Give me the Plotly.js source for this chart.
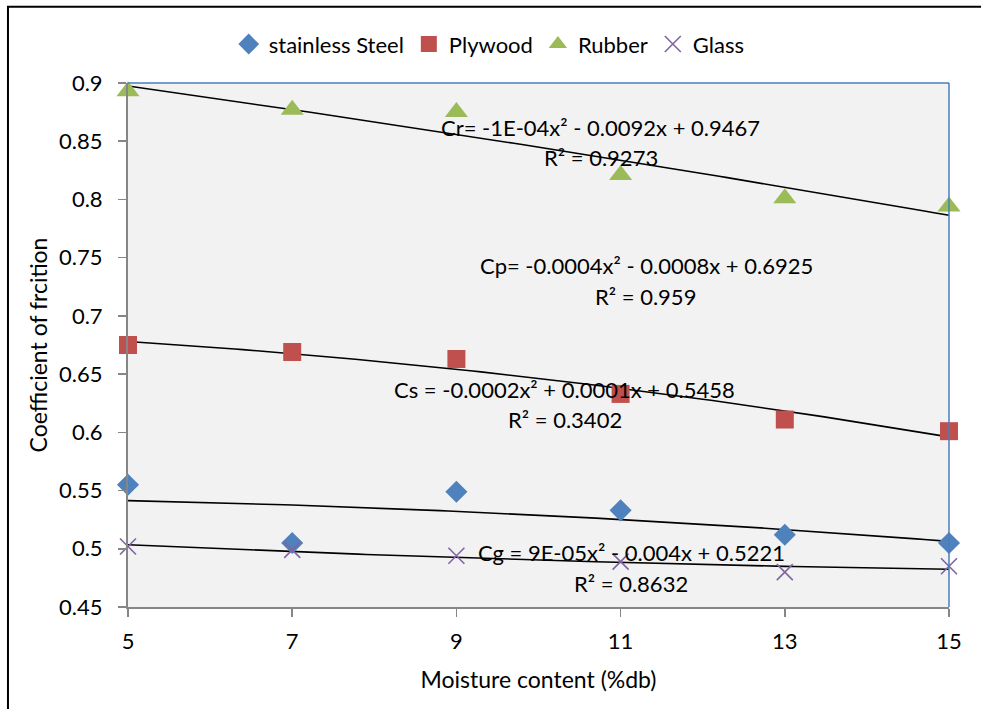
<!DOCTYPE html>
<html>
<head>
<meta charset="utf-8">
<script src="https://cdn.plot.ly/plotly-3.0.1.min.js"></script>
<style>html,body{margin:0;padding:0;background:#fff;}#chart{width:981px;height:709px;}</style>
</head>
<body>
<div id="chart"></div>
<script>
// Data
const moisture = [5, 7, 9, 11, 13, 15];
const steel   = [0.555, 0.505, 0.549, 0.533, 0.512, 0.505];
const plywood = [0.675, 0.669, 0.663, 0.633, 0.611, 0.601];
const rubber  = [0.893, 0.877, 0.875, 0.821, 0.801, 0.794];
const glass   = [0.502, 0.499, 0.494, 0.489, 0.480, 0.485];

const seriesNames = ['stainless Steel', 'Plywood', 'Rubber', 'Glass'];
const xTicks = [5, 7, 9, 11, 13, 15];
const yTicks = [0.45, 0.5, 0.55, 0.6, 0.65, 0.7, 0.75, 0.8, 0.85, 0.9];
const yTickText = ['0.45', '0.5', '0.55', '0.6', '0.65', '0.7', '0.75', '0.8', '0.85', '0.9'];

const eqLabels = [
  {text: 'Cr= -1E-04x\u00b2 - 0.0092x + 0.9467', x: 10.75, y: 0.8614},
  {text: 'R\u00b2 = 0.9273', x: 10.76, y: 0.8356},
  {text: 'Cp= -0.0004x\u00b2 - 0.0008x + 0.6925', x: 11.31, y: 0.7429},
  {text: 'R\u00b2 = 0.959', x: 11.30, y: 0.7165},
  {text: 'Cs = -0.0002x\u00b2 + 0.0001x + 0.5458', x: 10.32, y: 0.6364},
  {text: 'R\u00b2 = 0.3402', x: 10.32, y: 0.6106},
  {text: 'Cg = 9E-05x\u00b2 - 0.004x + 0.5221', x: 11.13, y: 0.4964},
  {text: 'R\u00b2 = 0.8632', x: 11.13, y: 0.4706}
];

// Least-squares quadratic fit (as a spreadsheet trendline does)
function quadFit(xs, ys) {
  let S = [[0,0,0],[0,0,0],[0,0,0]], T = [0,0,0];
  for (let i = 0; i < xs.length; i++) {
    const p = [1, xs[i], xs[i]*xs[i]];
    for (let r = 0; r < 3; r++) {
      T[r] += p[r]*ys[i];
      for (let c = 0; c < 3; c++) S[r][c] += p[r]*p[c];
    }
  }
  const A = S.map((row, i) => row.concat([T[i]]));
  for (let i = 0; i < 3; i++) {
    for (let k = i+1; k < 3; k++) {
      const f = A[k][i]/A[i][i];
      for (let j = i; j < 4; j++) A[k][j] -= f*A[i][j];
    }
  }
  const b = [0,0,0];
  for (let i = 2; i >= 0; i--) {
    let s = A[i][3];
    for (let j = i+1; j < 3; j++) s -= A[i][j]*b[j];
    b[i] = s/A[i][i];
  }
  return b;
}
function trend(ys) {
  const b = quadFit(moisture, ys);
  const xs = [], yv = [];
  for (let i = 0; i <= 100; i++) {
    const x = moisture[0] + (moisture[moisture.length-1]-moisture[0])*i/100;
    xs.push(x); yv.push(b[0] + b[1]*x + b[2]*x*x);
  }
  return {x: xs, y: yv};
}

const FONT = 'Lato, "Open Sans", sans-serif';
const allSeries = [steel, plywood, rubber, glass];
const colors = ['#4f81bd', '#c0504d', '#9bbb59', '#8064a2'];
const symbols = ['diamond', 'square', 'triangle-up', 'x-thin'];
const sizes = [17, 18, 20, 16];

const traces = [];
allSeries.forEach((ys, i) => {
  const t = trend(ys);
  traces.push({x: t.x, y: t.y, mode: 'lines', line: {color: '#000', width: 1.6},
    showlegend: false, hoverinfo: 'skip'});
});
allSeries.forEach((ys, i) => {
  traces.push({
    x: moisture, y: ys, name: seriesNames[i], mode: 'markers',
    marker: {color: colors[i], symbol: symbols[i], size: sizes[i],
      line: symbols[i] === 'x-thin' ? {color: colors[i], width: 1.6} : {width: 0}},
    cliponaxis: false
  });
});

const annotations = eqLabels.map(e => ({
  x: e.x, y: e.y, xref: 'x', yref: 'y', text: e.text, showarrow: false,
  font: {family: FONT, size: 22, color: '#000'}, xanchor: 'center', yanchor: 'middle'
}));

const layout = {
  width: 981, height: 709,
  margin: {l: 128, r: 32, t: 83, b: 102},
  paper_bgcolor: '#ffffff',
  plot_bgcolor: '#f2f2f2',
  font: {family: FONT, size: 22, color: '#000'},
  showlegend: true,
  legend: {orientation: 'h', x: 0.44, xanchor: 'center', y: 1.074, yanchor: 'middle',
    font: {family: FONT, size: 22, color: '#000'}, bgcolor: 'rgba(0,0,0,0)',
    itemwidth: 30, tracegroupgap: 0},
  xaxis: {
    range: [5, 15], tickvals: xTicks, ticktext: xTicks.map(String),
    showgrid: false, zeroline: false, showline: true, linecolor: '#868686', linewidth: 2,
    ticks: 'outside', ticklen: 8, tickcolor: '#868686', tickwidth: 1.5,
    ticklabelstandoff: 6,
    tickfont: {family: FONT, size: 22, color: '#000'},
    title: {text: 'Moisture content (%db)', font: {family: FONT, size: 23, color: '#000'}, standoff: 18},
    automargin: false
  },
  yaxis: {
    range: [0.45, 0.9], tickvals: yTicks, ticktext: yTickText,
    showgrid: false, zeroline: false, showline: true, linecolor: '#868686', linewidth: 2,
    ticks: 'outside', ticklen: 8, tickcolor: '#868686', tickwidth: 1.5,
    ticklabelstandoff: 11,
    tickfont: {family: FONT, size: 22, color: '#000'},
    title: {text: 'Coefficient of frcition', font: {family: FONT, size: 23, color: '#000'}, standoff: 5},
    automargin: false
  },
  shapes: [
    {type: 'line', xref: 'paper', yref: 'paper', x0: 0, x1: 1, y0: 1, y1: 1,
      line: {color: '#4a7ebb', width: 1.5}},
    {type: 'line', xref: 'paper', yref: 'paper', x0: 1, x1: 1, y0: 0, y1: 1,
      line: {color: '#4a7ebb', width: 1.5}},
    {type: 'rect', xref: 'paper', yref: 'paper', x0: -0.1462, x1: 1.12, y0: -0.25, y1: 1.1455,
      line: {color: '#000', width: 2}, layer: 'above'}
  ],
  annotations: annotations
};

Plotly.newPlot('chart', traces, layout, {displayModeBar: false, staticPlot: true});
</script>
</body>
</html>
